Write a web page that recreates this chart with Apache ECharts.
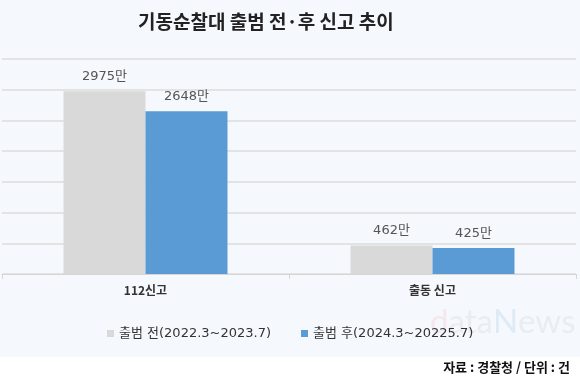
<!DOCTYPE html>
<html><head><meta charset="utf-8">
<script src="https://cdn.jsdelivr.net/npm/echarts@6/dist/echarts.min.js"></script>
<style>
html,body{margin:0;padding:0;}
body{background:linear-gradient(to bottom,#F5F8FC 0px,#F5F8FC 357px,#ffffff 357px,#ffffff 383px);}
#c{width:580px;height:383px;}
</style></head>
<body><div id="c"></div>
<script>
const categories = ['112신고', '출동 신고'];
const seriesNames = ['출범 전(2022.3~2023.7)', '출범 후(2024.3~20225.7)'];
const beforeValues = [2975, 462];
const afterValues = [2648, 425];
const titleText = '기동순찰대 출범 전·후 신고 추이';
const sourceText = '자료 : 경찰청 / 단위 : 건';

const FONT = '"Noto Sans CJK KR", "Noto Sans", sans-serif';
const WIDE = '"DejaVu Sans", "Noto Sans CJK KR", sans-serif';
const chart = echarts.init(document.getElementById('c'), null, {renderer: 'canvas'});
const labelOpt = {show: true, position: 'top', distance: 8, color: '#555', fontSize: 13, fontFamily: WIDE, formatter: p => p.value + '만'};
chart.setOption({
  backgroundColor: 'transparent',
  animation: false,
  textStyle: {fontFamily: FONT},
  title: {text: titleText, left: 133, top: 7, textStyle: {fontSize: 19, fontWeight: 'bold', color: '#222', fontFamily: FONT}},
  legend: {
    left: 102, top: 322, icon: 'rect', itemWidth: 7, itemHeight: 7, itemGap: 30,
    textStyle: {fontSize: 13, color: '#333', fontFamily: WIDE},
    data: seriesNames
  },
  grid: {left: 2, right: 4, top: 59, bottom: 109, containLabel: false},
  xAxis: {
    type: 'category', data: categories,
    axisLine: {lineStyle: {color: '#D6D6D6', width: 1}},
    axisTick: {show: true, length: 5, lineStyle: {color: '#D6D6D6'}},
    axisLabel: {color: '#333', fontSize: 12, margin: 10, fontWeight: 'bold', fontFamily: FONT}
  },
  yAxis: {
    type: 'value', min: 0, max: 3500, interval: 500,
    axisLabel: {show: false}, axisLine: {show: false}, axisTick: {show: false},
    splitLine: {lineStyle: {color: '#DCDCDC', width: 1.5}}
  },
  series: [
    {name: seriesNames[0], type: 'bar', data: beforeValues, barWidth: 82, barGap: '0%', itemStyle: {color: '#D9D9D9'}, label: labelOpt},
    {name: seriesNames[1], type: 'bar', data: afterValues, barWidth: 82, barGap: '0%', itemStyle: {color: '#5B9BD5'}, label: labelOpt}
  ],
  graphic: [
    {type: 'text', right: 10, top: 361, style: {text: sourceText, fontSize: 13, fontWeight: 'bold', fill: '#111', fontFamily: FONT}},
    {type: 'text', left: 430, top: 306, z: -1, style: {
      rich: {
        d: {fontSize: 33, fill: 'rgba(235,150,150,0.16)', fontFamily: 'Lato, sans-serif'},
        a: {fontSize: 33, fill: 'rgba(170,170,170,0.14)', fontFamily: 'Lato, sans-serif'},
        n: {fontSize: 33, fill: 'rgba(120,180,230,0.18)', fontFamily: 'Lato, sans-serif'},
        e: {fontSize: 33, fill: 'rgba(170,170,170,0.14)', fontFamily: 'Lato, sans-serif'}
      },
      text: '{d|d}{a|ata}{n|N}{e|ews}'
    }}
  ]
});
</script></body></html>
